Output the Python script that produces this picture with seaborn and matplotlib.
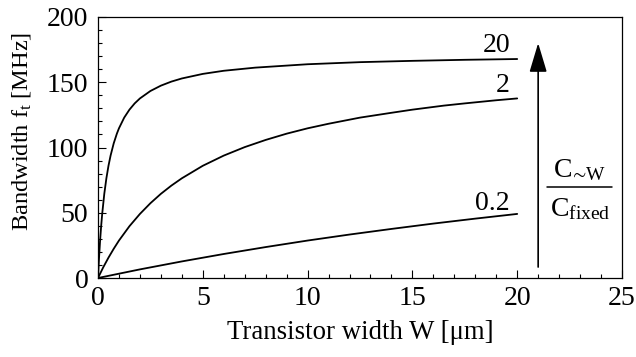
import numpy as np
import pandas as pd
import matplotlib
matplotlib.use("Agg")
import matplotlib.pyplot as plt
import seaborn as sns
from matplotlib.ticker import MultipleLocator

# Values (transistor width W in um, bandwidth in MHz)
w_20 = [0, 0.05, 0.1, 0.15, 0.2, 0.3, 0.4, 0.5, 0.6, 0.75, 0.9, 1.0, 1.25, 1.5, 1.75, 2.0, 2.5,
        3.0, 3.5, 4.0, 5.0, 6.0, 7.5, 10.0, 12.5, 15.0, 17.5, 20.0]
f_20 = [0, 15.6, 28.7, 39.7, 49.1, 64.5, 76.4, 86.0, 93.8, 103.2, 110.6, 114.7, 122.9, 129.0,
        133.8, 137.6, 143.3, 147.4, 150.5, 152.9, 156.4, 158.8, 161.2, 163.8, 165.4, 166.4,
        167.2, 167.8]

w_2 = [0, 0.25, 0.5, 0.75, 1.0, 1.5, 2.0, 2.5, 3.0, 3.5, 4.0, 5.0, 6.0, 7.0, 8.0, 9.0, 10.0,
       11.0, 12.5, 14.0, 15.0, 16.5, 17.5, 19.0, 20.0]
f_2 = [0, 8.2, 15.6, 22.4, 28.7, 39.7, 49.1, 57.3, 64.5, 70.8, 76.4, 86.0, 93.8, 100.3, 105.8,
       110.6, 114.7, 118.2, 122.9, 126.6, 129.0, 132.1, 133.8, 136.2, 137.6]

w_02 = [0, 2.0, 4.0, 6.0, 8.0, 10.0, 12.0, 14.0, 16.0, 18.0, 20.0]
f_02 = [0, 6.6, 12.7, 18.4, 23.7, 28.7, 33.3, 37.6, 41.7, 45.5, 49.1]

ratio_labels = ["20", "2", "0.2"]

sns.set_theme(style="white")
plt.rcParams["font.family"] = ["Liberation Serif", "DejaVu Serif"]
plt.rcParams["mathtext.fontset"] = "custom"
plt.rcParams["mathtext.rm"] = "Liberation Serif"
plt.rcParams["mathtext.it"] = "Liberation Serif:italic"
plt.rcParams["mathtext.bf"] = "Liberation Serif:bold"

fs = 20
fig = plt.figure(figsize=(6.36, 3.57), dpi=100)
ax = fig.add_axes([98 / 636, 1 - 278 / 357, (622 - 98) / 636, (278 - 17) / 357])

frames = [
    pd.DataFrame({"W": w_20, "f": f_20}),
    pd.DataFrame({"W": w_2, "f": f_2}),
    pd.DataFrame({"W": w_02, "f": f_02}),
]
for df in frames:
    sns.lineplot(data=df, x="W", y="f", ax=ax, color="black", linewidth=1.3,
                 estimator=None, sort=False)

ax.set_xlim(0, 25)
ax.set_ylim(0, 200)
ax.xaxis.set_major_locator(MultipleLocator(5))
ax.xaxis.set_minor_locator(MultipleLocator(1))
ax.yaxis.set_major_locator(MultipleLocator(50))
ax.yaxis.set_minor_locator(MultipleLocator(10))
ax.tick_params(which="both", direction="in", bottom=True, left=True, top=False, right=False,
               colors="black", labelsize=fs, width=0.8)
ax.tick_params(which="major", length=6)
ax.tick_params(which="minor", length=3)
ax.tick_params(axis="x", which="major", pad=6)
ax.tick_params(axis="y", which="major", pad=7)
for s in ax.spines.values():
    s.set_color("black")
    s.set_linewidth(0.9)

ax.set_xlabel("Transistor width W [μm]", fontsize=19.3, color="black", labelpad=6)
ax.set_ylabel(r"Bandwidth $\mathregular{f_t}$ [MHz]", fontsize=17.6, color="black")
ax.yaxis.set_label_coords(-0.124, 0.563)

# curve labels (right-aligned, baseline positions)
label_pos = [(19.66, 173.2), (19.66, 142.5), (19.66, 52.1)]
for txt, (x, y) in zip(ratio_labels, label_pos):
    ax.text(x, y, txt, ha="right", va="baseline", fontsize=fs, color="black")

# arrow
ax.annotate("", xy=(21.0, 180), xytext=(21.0, 8.4),
            arrowprops=dict(arrowstyle="-|>,head_length=1.5,head_width=0.45",
                            color="black", lw=1.2, shrinkA=0, shrinkB=0))

# fraction
ax.text(23.0, 77.4, r"$\mathregular{C_{\!\sim\!W}}$", ha="center", va="baseline", fontsize=fs, color="black")
ax.plot([21.42, 24.52], [69.7, 69.7], color="black", lw=1.1)
ax.text(23.0, 47.5, r"$\mathregular{C_{fixed}}$", ha="center", va="baseline", fontsize=fs, color="black")

fig.savefig("out.png", dpi=100)
